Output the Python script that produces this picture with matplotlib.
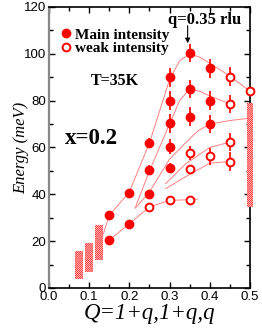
import matplotlib
matplotlib.use('Agg')
import matplotlib.pyplot as plt
from matplotlib.lines import Line2D

plt.rcParams['hatch.linewidth'] = 0.5

# main intensity (filled circles)
main_q = [0.15, 0.15, 0.2, 0.2, 0.25, 0.25, 0.25, 0.3, 0.3, 0.3, 0.3, 0.3,
          0.35, 0.35, 0.35, 0.4, 0.4, 0.4]
main_E = [31, 20.4, 40.6, 27.5, 62, 50.5, 40.3, 90, 80, 70.3, 60.4, 51.2,
          100.3, 85, 73.2, 93.8, 80, 70]
main_err = [0, 0, 0, 0, 2, 2, 0, 4, 4, 4, 3, 2,
            4, 4, 4, 4, 4, 4]

# weak intensity (open circles)
weak_q = [0.25, 0.3, 0.35, 0.35, 0.35, 0.4, 0.45, 0.45, 0.45, 0.45, 0.5]
weak_E = [34.6, 37.4, 37.7, 50.6, 57.7, 56.2, 90.3, 78.6, 62.3, 53.9, 84.2]
weak_err = [0, 0, 0, 2, 3, 3.5, 4, 4, 4, 4, 0]

# guide lines
guides = [
    ([0.135, 0.15, 0.2, 0.25, 0.3, 0.325, 0.35, 0.375, 0.4, 0.45, 0.5],
     [23, 31, 41, 62, 89, 97, 100, 98.5, 96, 90.5, 84]),
    ([0.214, 0.25, 0.3, 0.325, 0.35, 0.375, 0.4, 0.45],
     [34, 50, 70, 80, 85, 84, 82, 78.6]),
    ([0.217, 0.25, 0.3, 0.34, 0.37, 0.4, 0.45, 0.5],
     [34.5, 41, 55, 62, 67, 70, 71.5, 72.5]),
    ([0.29, 0.34, 0.4, 0.45], [44.5, 53, 60, 62.3]),
    ([0.29, 0.34, 0.4, 0.45], [42.4, 47.5, 53.3, 54]),
    ([0.15, 0.2, 0.25, 0.3, 0.35, 0.37], [20.4, 27.5, 34.6, 37.4, 37.7, 38]),
]

# hatched continuum bands
band_q = [0.075, 0.1, 0.125, 0.5]
band_lo = [4, 7, 12, 34.6]
band_hi = [16, 19, 27, 79]
band_w = [0.02, 0.02, 0.02, 0.013]

red = '#ff0000'
serif = 'Liberation Serif'

fig = plt.figure(figsize=(2.62, 3.31), dpi=100)
ax = fig.add_axes([0.187, 0.130, 0.767, 0.849])

for gq, gE in guides:
    ax.plot(gq, gE, color='#ff8080', lw=0.7, zorder=1)

for q, lo, hi, w in zip(band_q, band_lo, band_hi, band_w):
    ax.bar(q, hi - lo, bottom=lo, width=w, color=red, edgecolor='white',
           hatch='////////////////', linewidth=0, zorder=3, clip_on=False)

ax.errorbar(main_q, main_E, yerr=main_err, fmt='o', color=red, ms=6,
            elinewidth=1.2, capsize=0, zorder=4)
ax.errorbar(weak_q, weak_E, yerr=weak_err, fmt='o', color=red, mfc='white',
            mec=red, mew=1.4, ms=5.6, elinewidth=1.2, capsize=0, zorder=4,
            clip_on=False)

ax.set_xlim(0, 0.5)
ax.set_ylim(0, 120)
ax.set_xticks([0, 0.1, 0.2, 0.3, 0.4, 0.5])
ax.set_xticks([0.05, 0.15, 0.25, 0.35, 0.45], minor=True)
ax.set_yticks(range(0, 121, 20))
ax.set_yticks(range(10, 120, 20), minor=True)
ax.set_xticklabels(['0.0', '0.1', '0.2', '0.3', '0.4', '0.5'])
ax.tick_params(which='both', direction='in', top=True, right=True,
               labelsize=9.5, pad=2)
ax.tick_params(which='major', length=4.5, width=1)
ax.tick_params(which='minor', length=3, width=1)
for lab in ax.get_xticklabels() + ax.get_yticklabels():
    lab.set_fontfamily('Liberation Sans')
for s in ['top', 'right', 'bottom']:
    ax.spines[s].set_linewidth(1.2)
ax.spines['left'].set_color('#888888')
ax.spines['left'].set_linewidth(1.6)

ax.set_xlabel('Q=1+q,1+q,q', fontfamily=serif, style='italic', fontsize=16.5,
              labelpad=0)
ax.set_ylabel('Energy (meV)', fontfamily=serif, style='italic', fontsize=12,
              labelpad=-4)

handles = [
    Line2D([], [], marker='o', ls='none', color=red, ms=6),
    Line2D([], [], marker='o', ls='none', mfc='white', mec=red, mew=1.4,
           ms=5.6),
]
ax.legend(handles, ['Main intensity', 'weak intensity'], loc='upper left',
          bbox_to_anchor=(0.06, 0.925), frameon=False, handlelength=0.6,
          handletextpad=0.3, labelspacing=0.0, borderpad=0, borderaxespad=0,
          prop={'family': serif, 'weight': 'bold', 'size': 11})

ax.text(0.104, 88.5, 'T=35K', fontfamily=serif, fontweight='bold',
        fontsize=11.5, va='center', ha='left')
ax.text(0.04, 64, 'x=0.2', fontfamily=serif, fontweight='bold',
        fontsize=16.5, va='center', ha='left')
ax.text(0.388, 114.5, 'q=0.35 rlu', fontfamily=serif, fontweight='bold',
        fontsize=12, va='center', ha='center')
ax.annotate('', xy=(0.345, 104.5), xytext=(0.345, 112),
            arrowprops=dict(arrowstyle='-|>', color='black', lw=0.8,
                            mutation_scale=7, shrinkA=0, shrinkB=0))

fig.savefig('out.png', dpi=100)
